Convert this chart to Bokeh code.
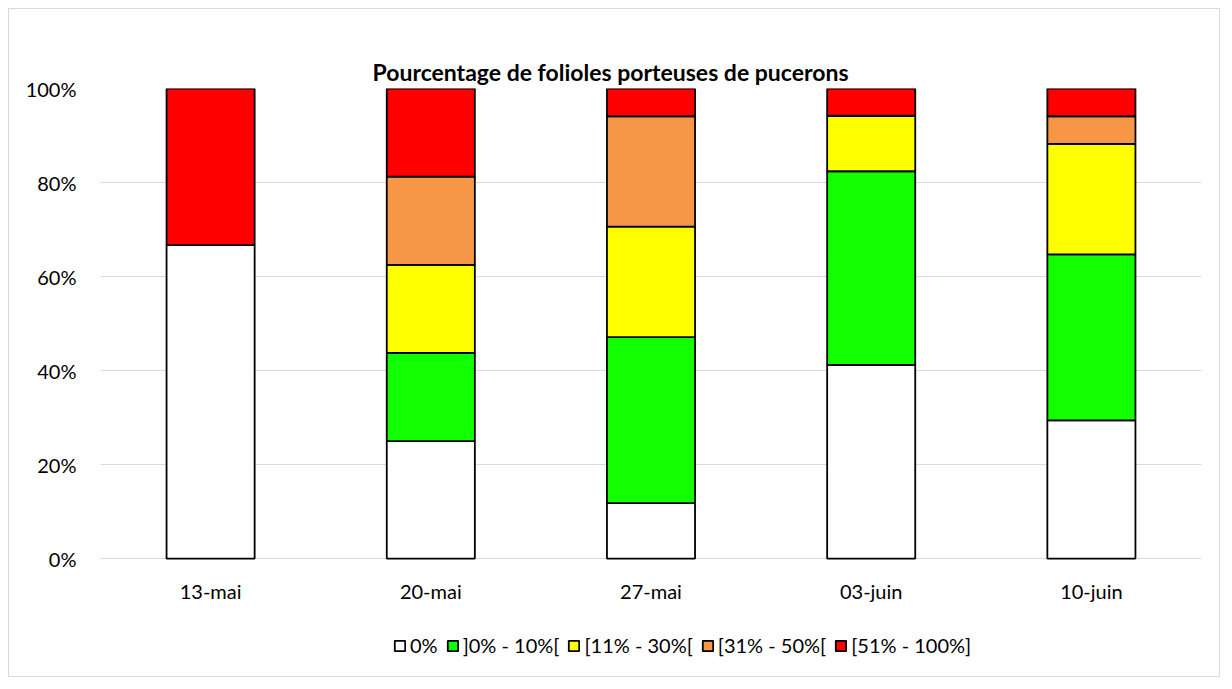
from bokeh.plotting import figure
from bokeh.models import FactorRange, Range1d, PrintfTickFormatter, Legend, LegendItem, FixedTicker
from bokeh.core.properties import value
from bokeh.embed import file_html
from bokeh.resources import INLINE

dates = ["13-mai", "20-mai", "27-mai", "03-juin", "10-juin"]
classes = ["0%", "]0% - 10%[", "[11% - 30%[", "[31% - 50%[", "[51% - 100%]"]
pct_0 = [66.7, 25.0, 11.8, 41.2, 29.4]
pct_0_10 = [0.0, 18.75, 35.3, 41.2, 35.3]
pct_11_30 = [0.0, 18.75, 23.5, 11.8, 23.5]
pct_31_50 = [0.0, 18.75, 23.5, 0.0, 5.9]
pct_51_100 = [33.3, 18.75, 5.9, 5.9, 5.9]
y_ticks = [0, 20, 40, 60, 80, 100]
colors = ["#FFFFFF", "#11FF00", "#FFFF00", "#F79646", "#FF0000"]

keys = ["c0", "c1", "c2", "c3", "c4"]
data = dict(x=dates, c0=pct_0, c1=pct_0_10, c2=pct_11_30, c3=pct_31_50, c4=pct_51_100)

FONT = "Lato"
# the frame extends below 0 so that the category labels and legend can sit inside it
p = figure(x_range=FactorRange(*dates, range_padding=0), y_range=Range1d(-25.5, 100),
           width=1212, height=669, output_backend="svg", toolbar_location=None,
           min_border_left=91, min_border_right=20, min_border_top=79, min_border_bottom=0)
p.styles = {"border": "1px solid #d9d9d9", "margin-left": "8px", "margin-top": "8px"}
p.outline_line_color = None

rs = p.vbar_stack(keys, x="x", width=0.4, source=data, fill_color=colors,
                  line_color="black", line_width=1.8)

p.text(x=dates, y=[0] * len(dates), text=dates, y_offset=32,
       text_align="center", text_baseline="middle", text_font=value(FONT),
       text_font_size="20px", text_color="#000000")

p.title.text = "Pourcentage de folioles porteuses de pucerons"
p.title.text_font = FONT
p.title.text_font_size = "23px"
p.title.text_font_style = "bold"
p.title.text_color = "#000000"
p.title.align = "left"
p.title.offset = 272
p.title.standoff = 6

p.xaxis.visible = False
p.yaxis.ticker = FixedTicker(ticks=y_ticks)
p.yaxis.formatter = PrintfTickFormatter(format="%d%%")
p.yaxis.axis_line_color = None
p.yaxis.major_tick_line_color = None
p.yaxis.minor_tick_line_color = None
p.yaxis.major_label_standoff = 18
p.yaxis.major_label_text_font = FONT
p.yaxis.major_label_text_font_size = "20px"
p.yaxis.major_label_text_color = "#000000"

p.xgrid.grid_line_color = None
p.ygrid.ticker = FixedTicker(ticks=y_ticks)
p.ygrid.grid_line_color = "#d9d9d9"
p.ygrid.grid_line_width = 1

legend = Legend(items=[LegendItem(label=c, renderers=[r]) for c, r in zip(classes, rs)],
                orientation="horizontal", location=(293, 21),
                glyph_width=13, glyph_height=13, label_standoff=4, spacing=8,
                label_text_font=FONT, label_text_font_size="20px", label_text_color="#000000",
                border_line_color=None, background_fill_alpha=0, padding=0, margin=0)
p.add_layout(legend, "center")

open("out.html", "w").write(file_html(p, INLINE))
